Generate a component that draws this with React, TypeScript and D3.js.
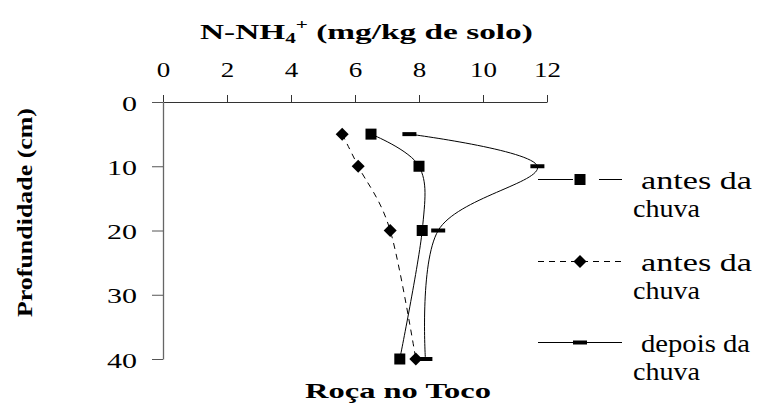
import React, { useEffect, useRef } from 'react';
import * as d3 from 'd3';

// data
const depths = [5, 10, 20, 40];
const antesSquare = [6.5, 8.0, 8.1, 7.4];
const antesDiamond = [5.6, 6.1, 7.1, 7.9];
const depoisChuva = [7.7, 11.7, 8.6, 8.2];
const xTicks = [0, 2, 4, 6, 8, 10, 12];
const yTicks = [0, 10, 20, 30, 40];
const legendLabels = [
  ['antes da', 'chuva'],
  ['antes da', 'chuva'],
  ['depois da', 'chuva'],
];

const W = 760;
const H = 411;
const FONT = "'Liberation Serif', 'Times New Roman', serif";

const App = () => {
  const ref = useRef<SVGSVGElement>(null);

  useEffect(() => {
    const svg = d3.select(ref.current);
    svg.selectAll('*').remove();

    const x = d3.scaleLinear().domain([0, 12]).range([163, 547]);
    const y = d3.scaleLinear().domain([0, 40]).range([102, 359]);

    // top x axis
    const gx = svg.append('g')
      .attr('transform', `translate(0,${y(0)})`)
      .call(d3.axisTop(x).tickValues(xTicks).tickSize(7).tickSizeOuter(0).tickFormat(d3.format('d')));
    gx.attr('font-family', null).attr('font-size', 22).style('font-family', FONT);
    gx.select('.domain').attr('stroke', '#333');
    gx.selectAll('.tick line').attr('stroke', '#333');
    gx.selectAll<SVGTextElement, number>('.tick text')
      .attr('fill', '#000')
      .attr('dy', null)
      .attr('y', -25)
      .attr('textLength', d => String(d).length * 13.5)
      .attr('lengthAdjust', 'spacingAndGlyphs');

    // left y axis (depth grows downward)
    const gy = svg.append('g')
      .attr('transform', `translate(${x(0)},0)`)
      .call(d3.axisLeft(y).tickValues(yTicks).tickSize(11).tickSizeOuter(0).tickPadding(15));
    gy.attr('font-family', null).attr('font-size', 22).style('font-family', FONT);
    gy.select('.domain').attr('stroke', '#666').attr('stroke-width', 1.3);
    gy.selectAll('.tick line').attr('stroke', '#555');
    gy.selectAll<SVGTextElement, number>('.tick text')
      .attr('fill', '#000')
      .attr('dy', null)
      .attr('y', 8)
      .attr('textLength', d => String(d).length * 15)
      .attr('lengthAdjust', 'spacingAndGlyphs');

    // smoothed lines like Excel
    const line = d3.line<[number, number]>()
      .x(d => x(d[0]))
      .y(d => y(d[1]))
      .curve(d3.curveCatmullRom.alpha(0));

    const series = [
      { values: antesSquare, dash: null, marker: 'square' },
      { values: antesDiamond, dash: '6,5', marker: 'diamond' },
      { values: depoisChuva, dash: null, marker: 'bar' },
    ];

    const drawMarker = (g: any, kind: string, cx: number, cy: number) => {
      if (kind === 'square') {
        g.append('rect').attr('x', cx - 5.5).attr('y', cy - 5.5).attr('width', 11).attr('height', 11).attr('fill', '#000');
      } else if (kind === 'diamond') {
        g.append('path')
          .attr('d', `M${cx},${cy - 6.5}L${cx + 6.5},${cy}L${cx},${cy + 6.5}L${cx - 6.5},${cy}Z`)
          .attr('fill', '#000');
      } else {
        g.append('rect').attr('x', cx - 7).attr('y', cy - 2).attr('width', 14).attr('height', 4).attr('fill', '#000');
      }
    };

    series.forEach(s => {
      const pts = d3.zip(s.values, depths) as [number, number][];
      svg.append('path')
        .attr('d', line(pts))
        .attr('fill', 'none')
        .attr('stroke', '#000')
        .attr('stroke-width', 1)
        .attr('stroke-dasharray', s.dash);
      const gm = svg.append('g');
      pts.forEach(p => drawMarker(gm, s.marker, x(p[0]), y(p[1])));
    });

    // legend
    const legendY = [179.5, 261.5, 342.5];
    const lg = svg.append('g').style('font-family', FONT);
    series.forEach((s, i) => {
      const ly = legendY[i];
      if (i === 0) {
        lg.append('line').attr('x1', 538).attr('x2', 573).attr('y1', ly).attr('y2', ly).attr('stroke', '#000');
        lg.append('line').attr('x1', 599).attr('x2', 622).attr('y1', ly).attr('y2', ly).attr('stroke', '#000');
      } else {
        lg.append('line').attr('x1', 538).attr('x2', 622).attr('y1', ly).attr('y2', ly)
          .attr('stroke', '#000').attr('stroke-dasharray', s.dash);
      }
      drawMarker(lg, s.marker, 580, ly);
      const [l1, l2] = legendLabels[i];
      lg.append('text')
        .attr('x', 641).attr('y', ly + 9.5)
        .attr('font-size', 25)
        .attr('textLength', i === 2 ? 109 : 111).attr('lengthAdjust', 'spacingAndGlyphs')
        .text(l1);
      lg.append('text')
        .attr('x', 633).attr('y', ly + 37)
        .attr('font-size', 25)
        .attr('textLength', 67).attr('lengthAdjust', 'spacingAndGlyphs')
        .text(l2);
    });

    // top title with sub/superscript, stretched to the reference width
    const title = svg.append('text')
      .attr('x', 200).attr('y', 39)
      .style('font-family', FONT).attr('font-size', 22).attr('font-weight', 'bold');
    title.append('tspan').text('N-NH');
    title.append('tspan').attr('font-size', 14).attr('dy', 4).text('4');
    title.append('tspan').attr('font-size', 14).attr('dy', -14).text('+');
    title.append('tspan').attr('dy', 10).text(' (mg/kg de solo)');
    const tw = (title.node() as SVGTextElement).getBBox().width;
    title.attr('transform', `translate(200,0) scale(${333 / tw},1) translate(-200,0)`);

    // y title
    svg.append('text')
      .attr('transform', 'translate(32,212.5) rotate(-90)')
      .attr('text-anchor', 'middle')
      .style('font-family', FONT).attr('font-size', 22).attr('font-weight', 'bold')
      .attr('textLength', 209).attr('lengthAdjust', 'spacingAndGlyphs')
      .text('Profundidade (cm)');

    // bottom caption
    svg.append('text')
      .attr('x', 305).attr('y', 398)
      .style('font-family', FONT).attr('font-size', 21).attr('font-weight', 'bold')
      .attr('textLength', 186).attr('lengthAdjust', 'spacingAndGlyphs')
      .text('Roça no Toco');
  }, []);

  return (
    <svg
      ref={ref}
      width={W}
      height={H}
      style={{ position: 'absolute', left: 0, top: 0, background: '#fff' }}
    />
  );
};

export default App;
